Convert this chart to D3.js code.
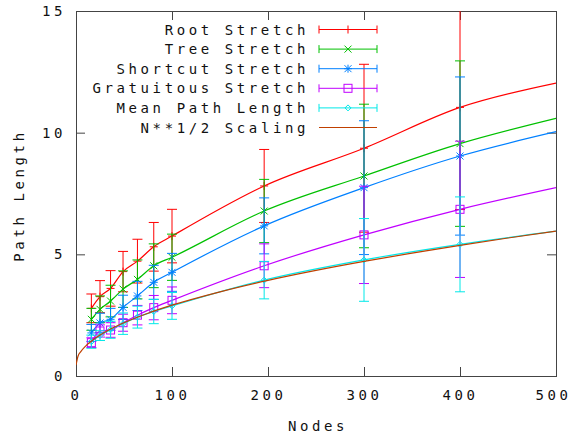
<!DOCTYPE html>
<html>
<head>
<meta charset="utf-8">
<script src="https://cdn.jsdelivr.net/npm/d3@7"></script>
<style>
    body { margin: 0; background: #fff; }
    text { font-family: "DejaVu Sans Mono", monospace; font-size: 14px; letter-spacing: 3.6px; fill: #111; }
</style>
</head>
<body>
<svg id="chart" width="572" height="439"></svg>
<script>
// values
const nodes = [16, 25, 36, 49, 64, 81, 100, 196, 300, 400];

const rootStretch = [2.78, 3.26, 3.60, 4.29, 4.72, 5.31, 5.75, 7.81, 9.36, 11.04];
const rootErr = [0.59, 0.66, 0.73, 0.83, 0.90, 1.00, 1.10, 1.50, 3.45, 4.20];
const treeStretch = [2.33, 2.74, 3.08, 3.57, 3.97, 4.53, 4.88, 6.78, 8.22, 9.55];
const treeErr = [0.45, 0.55, 0.65, 0.75, 0.80, 0.90, 0.95, 1.30, 2.95, 3.40];
const shortcutStretch = [1.77, 2.18, 2.33, 2.82, 3.29, 3.85, 4.26, 6.17, 7.74, 9.04];
const shortcutErr = [0.35, 0.40, 0.45, 0.50, 0.60, 0.70, 0.78, 1.15, 2.75, 3.25];
const gratuitousStretch = [1.37, 1.85, 1.89, 2.19, 2.50, 2.81, 3.11, 4.53, 5.80, 6.85];
const gratuitousErr = [0.20, 0.25, 0.30, 0.35, 0.40, 0.50, 0.55, 0.90, 2.00, 2.80];
const meanPath = [1.41, 1.66, 1.90, 2.15, 2.42, 2.65, 2.88, 3.94, 4.77, 5.41];
const meanPathErr = [0.27, 0.20, 0.35, 0.44, 0.45, 0.50, 0.55, 0.77, 1.70, 1.95];

// where each fitted line meets the right border (N = 500)
const lineEnds = [12.04, 10.59, 10.04, 7.74, 5.95];

// N**1/2 scaling curve
const scaleN = [0, 2, 5, 10, 16, 25, 36, 50, 75, 100, 150, 200, 250, 300, 350, 400, 450, 500];
const scaleVal = [0.45, 0.80, 1.00, 1.23, 1.43, 1.68, 1.93, 2.19, 2.58, 2.91, 3.46, 3.93, 4.34, 4.71, 5.05, 5.37, 5.67, 5.95];

const seriesNames = ["Root Stretch", "Tree Stretch", "Shortcut Stretch", "Gratuitous Stretch", "Mean Path Length"];
const seriesColors = ["#ff0000", "#00c000", "#0080ff", "#c000ff", "#00e8e8"];
const seriesMarkers = ["plus", "cross", "star", "square", "diamond"];
const scaleName = "N**1/2 Scaling";
const scaleColor = "#c04000";

const xTicks = [0, 100, 200, 300, 400, 500];
const yTicks = [0, 5, 10, 15];

let series = [
    {values: rootStretch, err: rootErr},
    {values: treeStretch, err: treeErr},
    {values: shortcutStretch, err: shortcutErr},
    {values: gratuitousStretch, err: gratuitousErr},
    {values: meanPath, err: meanPathErr}
].map(function (s, i) {
    return {
        name: seriesNames[i], color: seriesColors[i], marker: seriesMarkers[i],
        points: nodes.map(function (n, j) {
            return {x: n, y: s.values[j], lo: s.values[j] - s.err[j], hi: s.values[j] + s.err[j]};
        }),
        end: lineEnds[i]
    };
});

const margin = {top: 11, right: 16, bottom: 63, left: 76};
const width = 572 - margin.left - margin.right;
const height = 439 - margin.top - margin.bottom;

const svg = d3.select("#chart");

const x = d3.scaleLinear().domain([0, 500]).range([margin.left, margin.left + width]);
const y = d3.scaleLinear().domain([0, 15]).range([margin.top + height, margin.top]);

svg.append("clipPath").attr("id", "clip")
    .append("rect")
    .attr("x", margin.left).attr("y", margin.top)
    .attr("width", width).attr("height", height);

// axes, ticks pointing inwards and mirrored on top/right
let axisColor = "#444";

let gx = svg.append("g").attr("transform", "translate(0," + (margin.top + height) + ")")
    .call(d3.axisBottom(x).tickValues(xTicks).tickFormat(d3.format("d"))
        .tickSizeInner(-9).tickSizeOuter(0).tickPadding(14));
let gxTop = svg.append("g").attr("transform", "translate(0," + margin.top + ")")
    .call(d3.axisTop(x).tickValues(xTicks).tickFormat("")
        .tickSizeInner(-9).tickSizeOuter(0));
let gy = svg.append("g").attr("transform", "translate(" + margin.left + ",0)")
    .call(d3.axisLeft(y).tickValues(yTicks).tickFormat(d3.format("d"))
        .tickSizeInner(-9).tickSizeOuter(0).tickPadding(10));
let gyRight = svg.append("g").attr("transform", "translate(" + (margin.left + width) + ",0)")
    .call(d3.axisRight(y).tickValues(yTicks).tickFormat("")
        .tickSizeInner(-9).tickSizeOuter(0));

[gx, gxTop, gy, gyRight].forEach(function (g) {
    g.select(".domain").remove();
    g.selectAll("line").attr("stroke", axisColor);
    g.selectAll("text").attr("font-family", null).attr("font-size", null).attr("fill", null);
});

// last x label sits against the window edge
gx.selectAll(".tick text")
    .filter(function (d) { return d === 500; })
    .attr("text-anchor", "end")
    .attr("x", 15);

svg.append("rect")
    .attr("x", margin.left + 0.5).attr("y", margin.top + 0.5)
    .attr("width", width).attr("height", height)
    .attr("fill", "none").attr("stroke", axisColor);

svg.append("text")
    .attr("x", margin.left + width / 2 + 2).attr("y", 431)
    .attr("text-anchor", "middle")
    .text("Nodes");

svg.append("text")
    .attr("transform", "translate(24," + (margin.top + height / 2 + 2) + ") rotate(-90)")
    .attr("text-anchor", "middle")
    .text("Path Length");

// markers
function drawMarker(g, type, cx, cy, color) {
    let s = 4;
    if (type === "plus" || type === "star") {
        g.append("path").attr("d", "M" + (cx - s) + "," + cy + "H" + (cx + s) + "M" + cx + "," + (cy - s) + "V" + (cy + s))
            .attr("stroke", color).attr("fill", "none");
    }
    if (type === "cross" || type === "star") {
        let d = 3.5;
        g.append("path").attr("d", "M" + (cx - d) + "," + (cy - d) + "L" + (cx + d) + "," + (cy + d) +
            "M" + (cx - d) + "," + (cy + d) + "L" + (cx + d) + "," + (cy - d))
            .attr("stroke", color).attr("fill", "none");
    }
    if (type === "square") {
        g.append("rect").attr("x", cx - 4).attr("y", cy - 4).attr("width", 8).attr("height", 8)
            .attr("stroke", color).attr("fill", "none");
    }
    if (type === "diamond") {
        g.append("path").attr("d", "M" + (cx - 3) + "," + cy + "L" + cx + "," + (cy - 3) + "L" + (cx + 3) + "," + cy + "L" + cx + "," + (cy + 3) + "Z")
            .attr("stroke", color).attr("fill", "none");
    }
}

let plot = svg.append("g").attr("clip-path", "url(#clip)");

let line = d3.line()
    .x(function (d) { return x(d.x); })
    .y(function (d) { return y(d.y); })
    .curve(d3.curveMonotoneX);

series.forEach(function (s) {
    let g = plot.append("g").attr("class", "series");

    g.append("path")
        .datum(s.points.concat([{x: 500, y: s.end}]))
        .attr("d", line)
        .attr("fill", "none")
        .attr("stroke", s.color)
        .attr("stroke-width", 1.2);

    let bars = g.selectAll(".bar").data(s.points).enter().append("g").attr("class", "bar");
    bars.append("path")
        .attr("d", function (d) {
            let cx = x(d.x);
            return "M" + cx + "," + y(d.lo) + "V" + y(d.hi) +
                "M" + (cx - 5) + "," + y(d.lo) + "H" + (cx + 5) +
                "M" + (cx - 5) + "," + y(d.hi) + "H" + (cx + 5);
        })
        .attr("stroke", s.color)
        .attr("fill", "none");

    s.points.forEach(function (d) {
        drawMarker(g, s.marker, x(d.x), y(d.y), s.color);
    });
});

plot.append("path")
    .datum(scaleN.map(function (n, i) { return {x: n, y: scaleVal[i]}; }))
    .attr("d", line)
    .attr("fill", "none")
    .attr("stroke", scaleColor)
    .attr("stroke-width", 1.2);

// legend
let legend = svg.append("g").attr("class", "legend");
let rowY = function (i) { return 29.5 + i * 19.6; };
let sampleX0 = 319, sampleX1 = 377;

series.forEach(function (s, i) {
    let yy = rowY(i);
    legend.append("text")
        .attr("x", 309).attr("y", yy + 5)
        .attr("text-anchor", "end")
        .text(s.name);
    legend.append("path")
        .attr("d", "M" + sampleX0 + "," + yy + "H" + sampleX1 +
            "M" + sampleX0 + "," + (yy - 4) + "V" + (yy + 4) +
            "M" + sampleX1 + "," + (yy - 4) + "V" + (yy + 4))
        .attr("stroke", s.color).attr("fill", "none");
    drawMarker(legend, s.marker, (sampleX0 + sampleX1) / 2, yy, s.color);
});

let ys = rowY(series.length);
legend.append("text")
    .attr("x", 309).attr("y", ys + 5)
    .attr("text-anchor", "end")
    .text(scaleName);
legend.append("path")
    .attr("d", "M" + sampleX0 + "," + ys + "H" + sampleX1)
    .attr("stroke", scaleColor).attr("fill", "none");
</script>
</body>
</html>
